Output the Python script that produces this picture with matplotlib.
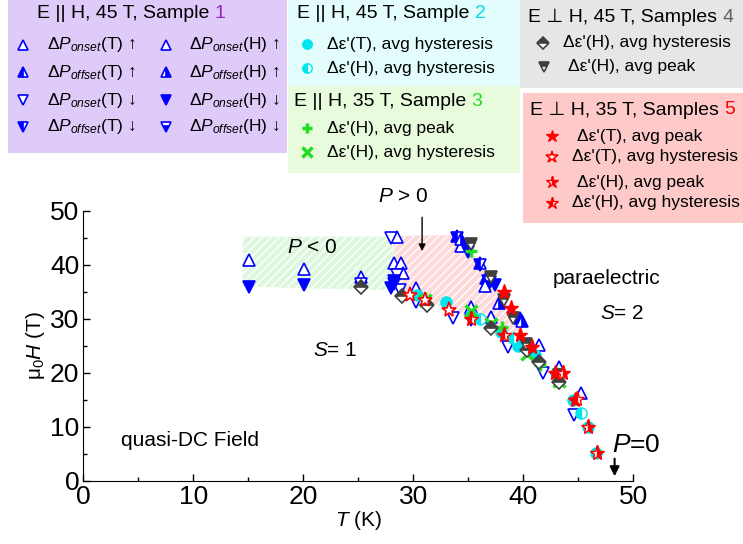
import matplotlib.pyplot as plt
from matplotlib.patches import Polygon, Rectangle
from matplotlib.ticker import MultipleLocator

plt.rcParams['font.family'] = ['Liberation Sans', 'DejaVu Sans']
plt.rcParams['mathtext.fontset'] = 'custom'
plt.rcParams['mathtext.rm'] = 'Liberation Sans'
plt.rcParams['mathtext.it'] = 'Liberation Sans:italic'
plt.rcParams['hatch.linewidth'] = 1.0

# ---- data (T in K, mu0H in T) ----
# sample 1, E || H, 45 T
s1_onT_up_T = [15.1, 20.1, 25.2, 28.5, 28.2, 28.9, 29.1, 30.2, 35.2, 37.1, 41.4, 43.2, 45.2]
s1_onT_up_H = [40.9, 39.2, 37.8, 45.2, 40.3, 40.3, 38.4, 35.6, 32.2, 30.4, 25.1, 21.1, 16.2]
s1_offT_up_T = [34.0, 36.1, 39.7, 36.6]
s1_offT_up_H = [45.3, 40.3, 30.1, 37.6]
s1_onT_dn_T = [28.0, 28.5, 28.8, 30.2, 33.6, 38.6, 41.8, 44.6]
s1_onT_dn_H = [44.9, 38.1, 35.3, 33.1, 30.1, 24.8, 19.9, 12.2]
s1_offT_dn_T = [34.0, 36.1, 28.2, 36.8]
s1_offT_dn_H = [45.0, 40.0, 36.5, 37.0]
s1_onH_up_T = [34.3, 36.5]
s1_onH_up_H = [43.5, 36.0]
s1_offH_up_T = [34.3, 37.8, 39.9]
s1_offH_up_H = [44.8, 33.0, 29.5]
s1_onH_dn_T = [15.1, 20.1, 28.0, 35.0, 37.4, 35.2, 28.2]
s1_onH_dn_H = [35.9, 36.2, 35.6, 42.4, 36.2, 29.8, 36.9]
s1_offH_dn_T = [25.2, 37.0]
s1_offH_dn_H = [36.5, 36.8]
# sample 2, E || H, 45 T
s2_T_T = [30.3, 33.0, 35.2, 38.0, 39.5, 41.1, 44.5, 45.9, 46.6]
s2_T_H = [34.4, 33.1, 30.7, 27.6, 24.9, 23.3, 14.9, 10.0, 5.1]
s2_H_T = [36.1, 39.1, 45.2, 43.0]
s2_H_H = [29.9, 26.4, 12.5, 20.0]
# sample 3, E || H, 35 T
s3_peak_T = [35.2, 31.1, 38.1, 41.5]
s3_peak_H = [42.6, 33.8, 28.5, 21.5]
s3_hys_T = [31.1, 35.2, 37.1, 40.3, 43.2]
s3_hys_H = [33.5, 31.5, 29.0, 23.5, 18.5]
# sample 4, E perp H, 45 T
s4_hys_T = [25.2, 31.2, 37.1, 40.3, 41.4, 43.2, 29.0]
s4_hys_H = [35.9, 32.5, 28.2, 24.2, 22.0, 18.3, 34.2]
s4_peak_T = [35.2, 37.1, 38.2, 39.1, 40.2, 43.2]
s4_peak_H = [43.8, 37.8, 33.5, 30.1, 25.4, 19.5]
# sample 5, E perp H, 35 T
s5_Tpeak_T = [38.2, 38.9, 39.7, 40.8, 42.9, 44.7]
s5_Tpeak_H = [35.0, 31.9, 27.0, 24.8, 19.9, 14.9]
s5_Thys_T = [29.7, 31.1, 33.2]
s5_Thys_H = [34.4, 33.5, 31.7]
s5_Hpeak_T = [43.6, 45.9, 46.7]
s5_Hpeak_H = [19.9, 10.0, 5.1]
s5_Hhys_T = [35.2, 38.2, 44.9]
s5_Hhys_H = [30.0, 27.0, 15.2]

# shaded regions (T, H corners)
neg_T = [14.5, 28.0, 28.6, 21.0, 14.5]
neg_H = [45.2, 45.2, 35.3, 35.6, 36.0]
pos_T = [28.1, 33.9, 36.1, 38.5, 40.6, 42.1, 41.2, 37.0, 33.3, 28.6]
pos_H = [45.3, 45.5, 40.3, 32.2, 24.8, 21.1, 22.4, 28.5, 31.6, 35.5]

BLUE = '#0000ff'
CYAN = '#00e5f0'
GREEN = '#22dd22'
DARK = '#404040'
RED = '#ff0000'

st = {
    's1a': dict(marker='^', color=BLUE, mfc='white', mec=BLUE, ms=9, mew=1.2),
    's1b': dict(marker='^', color=BLUE, mfc=BLUE, mec=BLUE, mfcalt='white', fillstyle='left', ms=9, mew=1.2),
    's1c': dict(marker='v', color=BLUE, mfc='white', mec=BLUE, ms=9, mew=1.2),
    's1d': dict(marker='v', color=BLUE, mfc=BLUE, mec=BLUE, mfcalt='white', fillstyle='left', ms=9, mew=1.2),
    's1e': dict(marker='^', color=BLUE, mfc='white', mec=BLUE, ms=9, mew=1.2),
    's1f': dict(marker='^', color=BLUE, mfc=BLUE, mec=BLUE, mfcalt='white', fillstyle='right', ms=9, mew=1.2),
    's1g': dict(marker='v', color=BLUE, mfc=BLUE, mec=BLUE, ms=9, mew=1.2),
    's1h': dict(marker='v', color=BLUE, mfc=BLUE, mec=BLUE, mfcalt='white', fillstyle='bottom', ms=9, mew=1.2),
    's2a': dict(marker='o', color=CYAN, mfc=CYAN, mec=CYAN, ms=8),
    's2b': dict(marker='o', color=CYAN, mfc=CYAN, mec=CYAN, mfcalt='white', fillstyle='left', ms=8),
    's3a': dict(marker='+', color=GREEN, ms=9, mew=2.5),
    's3b': dict(marker='x', color=GREEN, ms=9, mew=2.5),
    's4a': dict(marker='D', color=DARK, mfc=DARK, mec=DARK, mfcalt='white', fillstyle='top', ms=7, mew=1.2),
    's4b': dict(marker='v', color=DARK, mfc=DARK, mec=DARK, mfcalt='white', fillstyle='top', ms=9, mew=1.2),
    's5a': dict(marker='*', color=RED, mfc=RED, mec=RED, ms=11),
    's5b': dict(marker='*', color=RED, mfc='white', mec=RED, ms=11, mew=1.2),
    's5c': dict(marker='*', color=RED, mfc=RED, mec=RED, mfcalt='white', fillstyle='right', ms=11, mew=1.0),
    's5d': dict(marker='*', color=RED, mfc=RED, mec=RED, mfcalt='white', fillstyle='left', ms=11, mew=1.0),
}

fig = plt.figure(figsize=(7.43, 5.44), dpi=100)
ax = fig.add_axes([83.3 / 743, 1 - 480.7 / 544, 550 / 743, 270 / 544])

ax.add_patch(Polygon(list(zip(neg_T, neg_H)), closed=True, facecolor='#ddf7dd',
                     edgecolor='white', hatch='////', linewidth=0, zorder=0))
ax.add_patch(Polygon(list(zip(pos_T, pos_H)), closed=True, facecolor='#fdd9d9',
                     edgecolor='white', hatch='////', linewidth=0, zorder=0))

series = [
    (s1_onT_up_T, s1_onT_up_H, 's1a'), (s1_offT_up_T, s1_offT_up_H, 's1b'),
    (s1_onT_dn_T, s1_onT_dn_H, 's1c'), (s1_offT_dn_T, s1_offT_dn_H, 's1d'),
    (s1_onH_up_T, s1_onH_up_H, 's1e'), (s1_offH_up_T, s1_offH_up_H, 's1f'),
    (s1_onH_dn_T, s1_onH_dn_H, 's1g'), (s1_offH_dn_T, s1_offH_dn_H, 's1h'),
    (s2_T_T, s2_T_H, 's2a'), (s2_H_T, s2_H_H, 's2b'),
    (s3_peak_T, s3_peak_H, 's3a'), (s3_hys_T, s3_hys_H, 's3b'),
    (s4_hys_T, s4_hys_H, 's4a'), (s4_peak_T, s4_peak_H, 's4b'),
    (s5_Tpeak_T, s5_Tpeak_H, 's5a'), (s5_Thys_T, s5_Thys_H, 's5b'),
    (s5_Hpeak_T, s5_Hpeak_H, 's5c'), (s5_Hhys_T, s5_Hhys_H, 's5d'),
]
for x, y, key in series:
    ax.plot(x, y, linestyle='none', zorder=3, **st[key])

ax.set_xlim(0, 50)
ax.set_ylim(0, 50)
ax.xaxis.set_major_locator(MultipleLocator(10))
ax.xaxis.set_minor_locator(MultipleLocator(5))
ax.yaxis.set_major_locator(MultipleLocator(10))
ax.yaxis.set_minor_locator(MultipleLocator(5))
ax.tick_params(which='both', direction='in', labelsize=19, width=1)
ax.tick_params(which='major', length=5, pad=3)
ax.tick_params(which='minor', length=3)
ax.spines['top'].set_visible(False)
ax.spines['right'].set_visible(False)
ax.set_xlabel('$T$ (K)', fontsize=15, labelpad=0)
ax.set_ylabel('μ$_0$$H$ (T)', fontsize=15, labelpad=2)

ax.text(20.8, 43.1, '$P$ < 0', fontsize=15, ha='center', va='center')
ax.text(29.1, 52.7, '$P$ > 0', fontsize=15, ha='center', va='center')
ax.annotate('', xy=(30.8, 42.0), xytext=(30.8, 49.3),
            arrowprops=dict(arrowstyle='-|>', color='black', lw=1, mutation_scale=10))
ax.text(42.7, 37.5, 'paraelectric', fontsize=15, ha='left', va='center')
ax.text(49.0, 31.0, '$S$= 2', fontsize=15, ha='center', va='center')
ax.text(22.9, 24.2, '$S$= 1', fontsize=15, ha='center', va='center')
ax.text(3.4, 7.5, 'quasi-DC Field', fontsize=15, ha='left', va='center')
ax.text(50.3, 6.6, '$P$=0', fontsize=19, ha='center', va='center')
ax.annotate('', xy=(48.3, 0.3), xytext=(48.3, 4.6),
            arrowprops=dict(arrowstyle='-|>', color='black', lw=1.5, mutation_scale=14))

# ---- legend boxes, drawn in figure pixel coordinates ----
ov = fig.add_axes([0, 0, 1, 1], facecolor='none')
ov.set_xlim(0, 743)
ov.set_ylim(544, 0)
ov.axis('off')

boxes = [
    (8, 0, 279, 153, '#dfcbf9'),
    (288, 0, 232, 86, '#e3fdfd'),
    (288, 86, 232, 87, '#e8fbdc'),
    (520, 0, 223, 88, '#e6e6e6'),
    (523, 93, 220, 130, '#fdc9c9'),
]
for bx, by, bw, bh, c in boxes:
    ov.add_patch(Rectangle((bx, by), bw, bh, facecolor=c, edgecolor='none', zorder=0))

renderer = fig.canvas.get_renderer()


def title(x, y, s, num, numcolor):
    t = ov.text(x, y, s, fontsize=14, ha='left', va='center')
    bb = t.get_window_extent(renderer).transformed(ov.transData.inverted())
    ov.text(max(bb.x0, bb.x1), y, num, fontsize=14, ha='left', va='center', color=numcolor)


title(37, 14, 'E || H, 45 T, Sample ', '1', '#9a22c8')
title(297, 14, 'E || H, 45 T, Sample ', '2', '#00e0e8')
title(294, 102, 'E || H, 35 T, Sample ', '3', '#22dd22')
title(528, 17, 'E ⊥ H, 45 T, Samples ', '4', '#606060')
title(530, 110, 'E ⊥ H, 35 T, Samples ', '5', '#ff0000')

leg_items = [
    (23, 45, 47, r'$\Delta P_{onset}$(T) ↑', 's1a'),
    (23, 72, 47, r'$\Delta P_{offset}$(T) ↑', 's1b'),
    (23, 100, 47, r'$\Delta P_{onset}$(T) ↓', 's1c'),
    (23, 127, 47, r'$\Delta P_{offset}$(T) ↓', 's1d'),
    (166, 45, 189, r'$\Delta P_{onset}$(H) ↑', 's1e'),
    (166, 72, 189, r'$\Delta P_{offset}$(H) ↑', 's1f'),
    (166, 100, 189, r'$\Delta P_{onset}$(H) ↓', 's1g'),
    (166, 127, 189, r'$\Delta P_{offset}$(H) ↓', 's1h'),
    (307, 44, 327, "Δε'(T), avg hysteresis", 's2a'),
    (307, 68, 327, "Δε'(H), avg hysteresis", 's2b'),
    (307, 128, 327, "Δε'(H), avg peak", 's3a'),
    (307, 152, 327, "Δε'(H), avg hysteresis", 's3b'),
    (543, 43, 563, "Δε'(H), avg hysteresis", 's4a'),
    (544, 67, 568, "Δε'(H), avg peak", 's4b'),
    (552, 136, 577, "Δε'(T), avg peak", 's5a'),
    (552, 157, 572, "Δε'(T), avg hysteresis", 's5b'),
    (552, 182, 577, "Δε'(H), avg peak", 's5c'),
    (552, 203, 572, "Δε'(H), avg hysteresis", 's5d'),
]
for mx, my, tx, label, key in leg_items:
    kw = dict(st[key])
    kw['ms'] = kw['ms'] * 0.85
    ov.plot([mx], [my], linestyle='none', clip_on=False, **kw)
    ov.text(tx, my, label, fontsize=12.5, ha='left', va='center')

fig.savefig('out.png', dpi=100)
